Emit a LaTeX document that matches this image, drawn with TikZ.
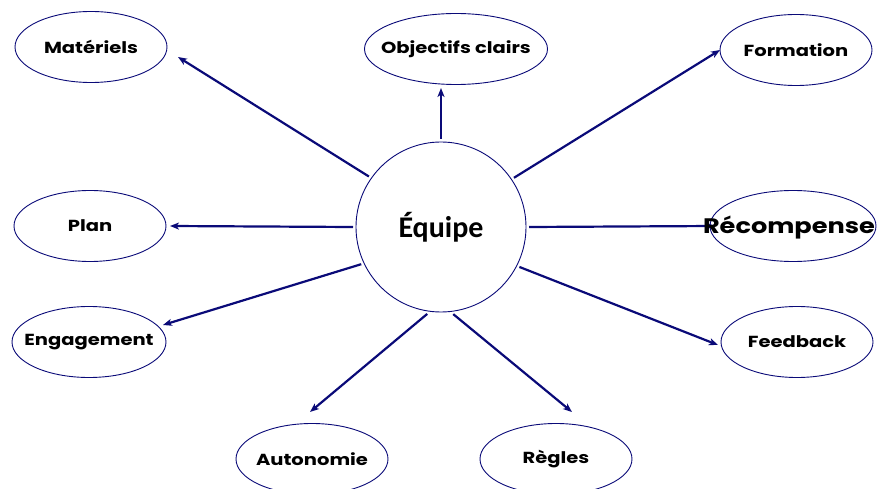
\documentclass[tikz,border=0pt]{standalone}
\usepackage{fontspec}
\setmainfont{Poppins}
\newfontfamily\leaffont[FakeStretch=1.22]{Poppins}
\newfontfamily\hubfont{Carlito}
\usetikzlibrary{arrows.meta,shapes.geometric,backgrounds}
\definecolor{navy}{RGB}{10,10,120}
% label text takes no width, so every ellipse keeps its own size
\newcommand{\zerowd}[1]{\makebox[0pt]{#1}}
\tikzset{
  leaf/.style={ellipse, draw=navy, line width=0.9pt, minimum width=152pt, minimum height=71pt, inner sep=0pt, font=\leaffont\bfseries\fontsize{16}{19}\selectfont},
  hub/.style={circle, draw=navy, line width=0.9pt, minimum size=170pt, inner sep=0pt, outer sep=3pt, font=\hubfont\bfseries\fontsize{30}{34}\selectfont},
  link/.style={draw=navy, line width=2.2pt, -{Stealth[length=9pt,width=7pt,inset=2.5pt]}}
}
\begin{document}
\begin{tikzpicture}[x=1pt,y=-1pt]
\useasboundingbox (0,0) rectangle (879,489);
% centre
\node[hub] (c) at (441,227) {Équipe};
% surrounding ellipses
\node[leaf] (mat) at (91,47) {\zerowd{Matériels}};
\node[leaf, minimum width=183pt] (obj) at (456,49) {\zerowd{Objectifs clairs}};
\node[leaf] (for) at (796,50) {\zerowd{Formation}};
\node[leaf] (pla) at (90,226) {\zerowd{Plan}};
\node[leaf, minimum width=166pt] (rec) at (793,226) {};
\node[font=\leaffont\bfseries\fontsize{21}{24}\selectfont, inner sep=0pt] (rect) at (789,228) {\zerowd{Récompense}};
\node[leaf, minimum width=154pt] (eng) at (89,342) {\zerowd{Engagement}};
\node[leaf] (fee) at (797,342) {\zerowd{Feedback}};
\node[leaf] (aut) at (312,459) {\zerowd{Autonomie}};
\node[leaf] (reg) at (556,459) {\zerowd{Règles}};
% arrow tips
\coordinate (tmat) at (178,57);
\coordinate (tobj) at (441,88);
\coordinate (tfor) at (720,50);
\coordinate (tpla) at (170,226);
\coordinate (trec) at (715,226);
\coordinate (teng) at (163,325);
\coordinate (tfee) at (718,345);
\coordinate (taut) at (310,412);
\coordinate (treg) at (572,412);
% connectors, drawn beneath the labels
\begin{pgfonlayer}{background}
\foreach \a/\t in {145.6/tmat,90/tobj,34.2/tfor,180/tpla,0/trec,205.7/teng,333.7/tfee,261.1/taut,278.2/treg}
  \draw[link] (c.\a) -- (\t);
\end{pgfonlayer}
\end{tikzpicture}
\end{document}
